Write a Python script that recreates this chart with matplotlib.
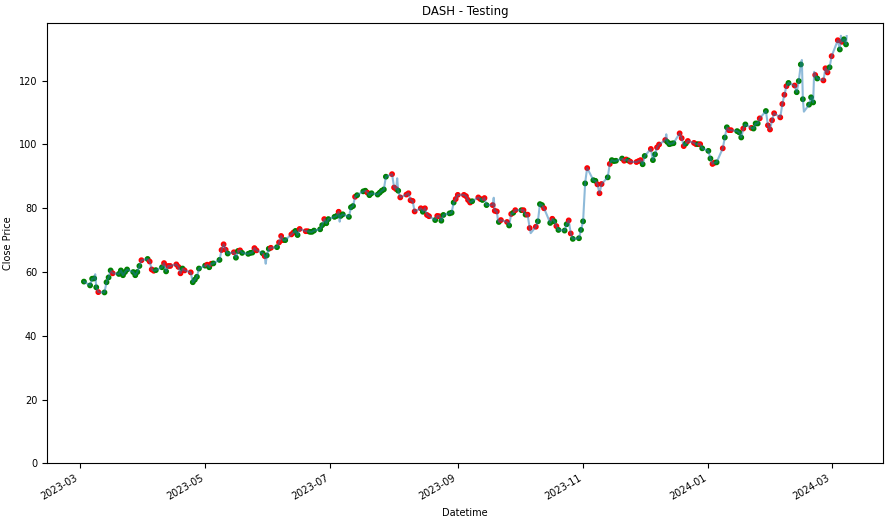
import numpy as np
import pandas as pd
import matplotlib
matplotlib.use('Agg')
import matplotlib.pyplot as plt
import matplotlib.dates as mdates

# Precio de cierre diario (lunes a viernes), una fila por semana
close = [
    57.0,                                  # 2023-03-03
    55.8, 57.9, 58.0, 55.2, 53.7,          # 03-06
    53.6, 56.8, 58.3, 60.5, 59.6,          # 03-13
    59.4, 60.5, 59.0, 60.0, 60.8,          # 03-20
    60.0, 59.0, 60.0, 61.9, 63.7,          # 03-27
    64.1, 63.3, 60.8, 60.4, 60.6,          # 04-03
    61.5, 62.8, 60.2, 61.9, 61.9,          # 04-10
    62.4, 61.6, 59.6, 61.1, 60.5,          # 04-17
    59.9, 56.8, 57.6, 58.5, 61.1,          # 04-24
    62.0, 62.3, 61.5, 62.6, 62.7,          # 05-01
    63.8, 66.9, 68.7, 67.0, 65.8,          # 05-08
    66.2, 64.5, 66.6, 66.8, 66.0,          # 05-15
    65.7, 66.0, 66.1, 67.5, 66.8,          # 05-22
    65.9, 65.0, 65.2, 67.3, 67.6,          # 05-29
    67.8, 69.3, 71.3, 70.0, 70.0,          # 06-05
    71.8, 72.4, 72.9, 71.6, 73.5,          # 06-12
    72.8, 72.8, 72.6, 72.6, 73.0,          # 06-19
    73.4, 74.7, 76.6, 75.3, 76.6,          # 06-26
    77.3, 77.6, 78.9, 77.6, 78.1,          # 07-03
    77.3, 80.3, 80.7, 83.6, 84.1,          # 07-10
    85.3, 85.5, 84.9, 84.1, 84.7,          # 07-17
    84.3, 84.9, 85.5, 85.9, 89.9,          # 07-24
    90.7, 86.5, 86.0, 85.5, 83.4,          # 07-31
    84.3, 84.7, 82.5, 82.3, 79.0,          # 08-07
    80.0, 78.9, 80.0, 77.9, 77.5,          # 08-14
    76.3, 77.6, 77.5, 76.1, 77.9,          # 08-21
    78.4, 78.6, 81.8, 82.9, 84.2,          # 08-28
    84.2, 83.8, 82.6, 81.8, 82.2,          # 09-04
    83.4, 82.9, 82.6, 83.2, 81.0,          # 09-11
    81.0, 79.2, 79.0, 75.7, 76.3,          # 09-18
    75.7, 74.6, 78.2, 78.6, 79.4,          # 09-25
    79.4, 79.4, 78.0, 78.0, 73.8,          # 10-02
    74.2, 75.9, 81.3, 81.0, 80.0,          # 10-09
    75.4, 76.7, 75.9, 74.4, 73.2,          # 10-16
    73.0, 75.0, 76.2, 72.1, 70.4,          # 10-23
    70.6, 73.2, 75.9, 87.8, 92.6,          # 10-30
    88.8, 88.6, 87.5, 84.7, 87.6,          # 11-06
    89.7, 93.9, 95.1, 94.8, 94.9,          # 11-13
    95.6, 94.9, 95.3, 95.0, 94.6,          # 11-20
    94.5, 94.8, 95.1, 93.8, 96.4,          # 11-27
    98.6, 95.1, 96.9, 99.1, 100.0,         # 12-04
    101.4, 100.8, 100.1, 100.3, 100.4,     # 12-11
    103.5, 102.0, 99.5, 100.3, 101.1,      # 12-18
    100.5, 100.1, 100.1, 100.1, 98.8,      # 12-25
    98.0, 95.6, 93.9, 94.3, 94.4,          # 2024-01-01
    98.8, 102.2, 105.4, 104.5, 104.5,      # 01-08
    104.2, 103.8, 102.2, 105.0, 106.3,     # 01-15
    105.2, 105.0, 106.6, 106.6, 108.2,     # 01-22
    110.5, 106.0, 104.7, 107.6, 109.8,     # 01-29
    108.5, 112.7, 115.6, 118.3, 119.3,     # 02-05
    118.5, 116.4, 119.9, 125.1, 114.2,     # 02-12
    112.5, 114.8, 113.2, 121.8, 120.7,     # 02-19
    120.1, 123.9, 122.6, 124.2, 127.7,     # 02-26
    132.7, 129.8, 132.2, 133.0, 131.4,     # 03-04
]

# g = verde, r = rojo (una letra por dia, mismo orden)
senal = (
    "g"
    "ggggr" "ggggr" "ggggg" "ggggr" "grrrg" "grgrr" "rrrgr" "rgggg"
    "grgrg" "grrrg" "rggrg" "gggrr" "grggr" "grrrg" "rrggr" "rrggg"
    "ggrgg" "ggrgg" "gggrg" "ggrgg" "ggggg" "rrrgr" "rrrrr" "rgrrr"
    "grrgg" "gggrr" "rrrrg" "rrgrg" "rrrgr" "rgrgr" "grgrr" "rgggr"
    "grgrg" "ggrrg" "ggggr" "ggrrr" "grggg" "grrgr" "rrrgg" "rggrr"
    "rgggg" "rrrgr" "rrgrg" "ggrrg" "rggrr" "gggrg" "rgggr" "grrrr"
    "rrrrg" "rgggg" "gggrg" "rrrgr" "rgrgg"
)

# Picos intradia que solo aparecen en la linea
pico_fechas = ['2023-03-08 12:00', '2023-05-30 12:00', '2023-07-05 12:00',
               '2023-08-02 12:00', '2023-09-18 12:00', '2023-09-20 12:00',
               '2023-10-06 12:00', '2023-11-02 12:00', '2023-12-11 12:00',
               '2024-02-15 12:00', '2024-02-16 12:00', '2024-02-21 12:00',
               '2024-03-05 12:00', '2024-03-08 08:00']
pico_valores = [59.3, 62.6, 75.8, 89.4, 83.3, 76.5, 72.2, 90.4, 103.2,
                126.5, 110.3, 122.8, 134.1, 134.0]

fechas = pd.bdate_range('2023-03-03', periods=len(close))
serie = pd.Series(close, index=fechas)
picos = pd.Series(pico_valores, index=pd.to_datetime(pico_fechas))
linea = pd.concat([serie, picos]).sort_index()

colores = np.array(['green' if s == 'g' else 'red' for s in senal[:len(close)]])

plt.rcParams['font.size'] = 7
fig = plt.figure(figsize=(8.91, 5.21), dpi=100)
ax = fig.add_axes([0.0527, 0.1107, 0.9383, 0.8445])

ax.scatter(fechas, close, c=colores, s=10, zorder=2)
ax.plot(linea.index, linea.values, color='tab:blue', alpha=0.5, linewidth=1.5, zorder=3)

ax.set_ylim(0, 138)
ax.set_xlim(pd.Timestamp('2023-02-13'), pd.Timestamp('2024-03-26'))
ax.xaxis.set_major_locator(mdates.MonthLocator(bymonth=[1, 3, 5, 7, 9, 11]))
ax.xaxis.set_major_formatter(mdates.DateFormatter('%Y-%m'))
for lbl in ax.get_xticklabels():
    lbl.set_rotation(30)
    lbl.set_ha('right')

ax.set_title('DASH - Testing', fontsize=8.5)
ax.set_xlabel('Datetime')
ax.set_ylabel('Close Price')

fig.savefig('out.png', dpi=100)
